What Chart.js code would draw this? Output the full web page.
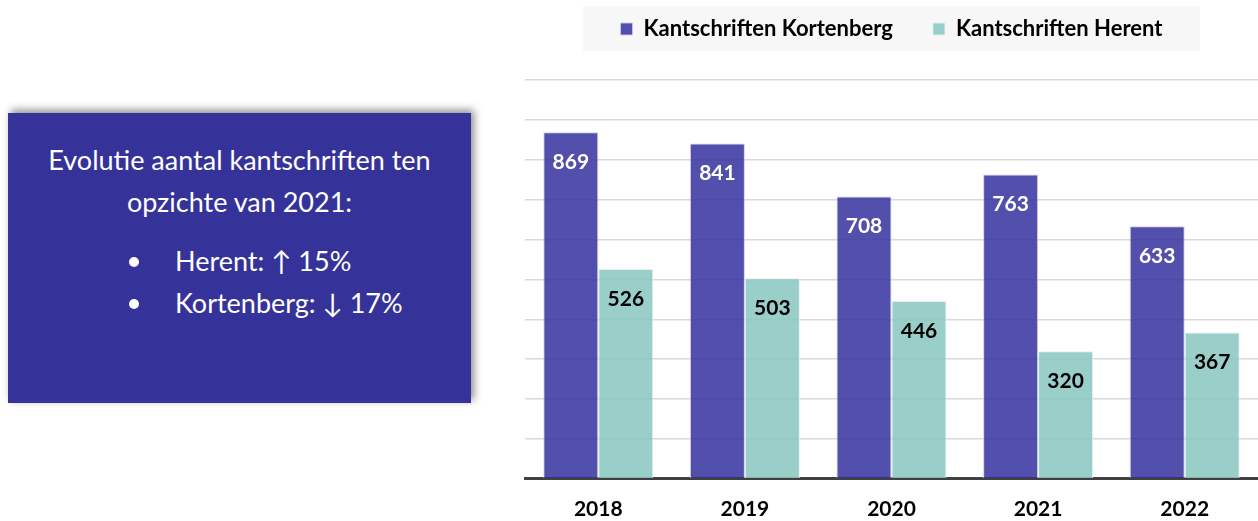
<!DOCTYPE html>
<html>
<head>
    <title>Kantschriften</title>
    <script src="https://cdn.jsdelivr.net/npm/chart.js@4.4.1/dist/chart.umd.min.js"></script>
    <style>
        body {
            margin: 0;
            width: 1258px;
            height: 521px;
            background: white;
            font-family: Lato, "Open Sans", sans-serif;
            position: relative;
            overflow: hidden;
        }
        .panel {
            position: absolute;
            left: 8px;
            top: 113px;
            width: 463px;
            height: 290px;
            background-color: #35339a;
            box-shadow: 3px -3px 8px rgba(0, 0, 0, 0.45);
            color: white;
            font-size: 27px;
        }
        .panel p {
            margin: 0;
            position: absolute;
            left: 0;
            width: 100%;
            text-align: center;
            line-height: 30px;
        }
        .panel ul {
            position: absolute;
            left: 120px;
            top: 133px;
            margin: 0;
            padding: 0;
            list-style: none;
        }
        .panel li {
            position: relative;
            padding-left: 47px;
            height: 42px;
            line-height: 30px;
        }
        .panel li::before {
            content: "";
            position: absolute;
            left: 1px;
            top: 11px;
            width: 10px;
            height: 10px;
            border-radius: 50%;
            background: white;
        }
        .chart-wrapper {
            position: absolute;
            left: 515px;
            top: -22px;
            width: 743px;
            height: 562px;
        }
    </style>
</head>
<body>
    <div class="panel">
        <p style="top: 32px;">Evolutie aantal kantschriften ten</p>
        <p style="top: 74px;">opzichte van 2021:</p>
        <ul>
            <li>Herent: &#8593; 15%</li>
            <li>Kortenberg: &#8595; 17%</li>
        </ul>
    </div>

    <div class="chart-wrapper">
        <canvas id="kantschriften"></canvas>
    </div>

    <script>
        // Data
        const years = ['2018', '2019', '2020', '2021', '2022'];
        const kortenberg = [869, 841, 708, 763, 633];
        const herent = [526, 503, 446, 320, 367];

        const FONT = 'Lato, "Open Sans", sans-serif';

        // fix legend height so the plot starts lower
        const legendHeight = {
            id: 'legendHeight',
            beforeInit(chart) {
                const fitValue = chart.legend.fit;
                chart.legend.fit = function () {
                    fitValue.bind(chart.legend)();
                    this.height = 102;
                };
            }
        };

        // grey band behind the legend
        const legendBackground = {
            id: 'legendBackground',
            beforeDraw(chart) {
                const ctx = chart.ctx;
                ctx.save();
                ctx.fillStyle = '#f7f7f7';
                ctx.fillRect(68, 28, 617, 45);
                ctx.restore();
            }
        };

        // value labels inside the top of each bar
        const valueLabels = {
            id: 'valueLabels',
            afterDatasetsDraw(chart) {
                const ctx = chart.ctx;
                ctx.save();
                ctx.font = 'bold 21px ' + FONT;
                ctx.textAlign = 'center';
                ctx.textBaseline = 'middle';
                chart.data.datasets.forEach((ds, i) => {
                    const meta = chart.getDatasetMeta(i);
                    meta.data.forEach((bar, j) => {
                        ctx.fillStyle = i === 0 ? '#ffffff' : '#000000';
                        ctx.fillText(ds.data[j], bar.x, bar.y + 30);
                    });
                });
                ctx.restore();
            }
        };

        new Chart(document.getElementById('kantschriften'), {
            type: 'bar',
            data: {
                labels: years,
                datasets: [
                    {
                        label: 'Kantschriften Kortenberg',
                        data: kortenberg,
                        backgroundColor: 'rgba(52, 49, 158, 0.85)',
                        borderColor: 'rgba(200, 200, 235, 0.9)',
                        borderWidth: 1
                    },
                    {
                        label: 'Kantschriften Herent',
                        data: herent,
                        backgroundColor: 'rgba(140, 200, 193, 0.88)',
                        borderColor: 'rgba(225, 240, 238, 0.9)',
                        borderWidth: 1
                    }
                ]
            },
            options: {
                responsive: true,
                maintainAspectRatio: false,
                animation: false,
                categoryPercentage: 0.75,
                barPercentage: 1.0,
                layout: {
                    padding: { left: 10, right: 0, top: 0, bottom: 0 }
                },
                scales: {
                    x: {
                        grid: { display: false, drawTicks: false },
                        border: { color: '#404040', width: 3 },
                        ticks: {
                            color: '#000000',
                            padding: 18,
                            font: { family: FONT, size: 21, weight: 'bold' }
                        }
                    },
                    y: {
                        min: 0,
                        max: 1000,
                        ticks: { display: false, stepSize: 100 },
                        border: { display: false },
                        grid: { color: '#d9d9d9', lineWidth: 1.5, drawTicks: false }
                    }
                },
                plugins: {
                    legend: {
                        position: 'top',
                        labels: {
                            color: '#000000',
                            boxWidth: 12,
                            boxHeight: 12,
                            padding: 40,
                            font: { family: FONT, size: 22, weight: 'bold' }
                        }
                    },
                    tooltip: { enabled: false }
                }
            },
            plugins: [legendHeight, legendBackground, valueLabels]
        });
    </script>
</body>
</html>
